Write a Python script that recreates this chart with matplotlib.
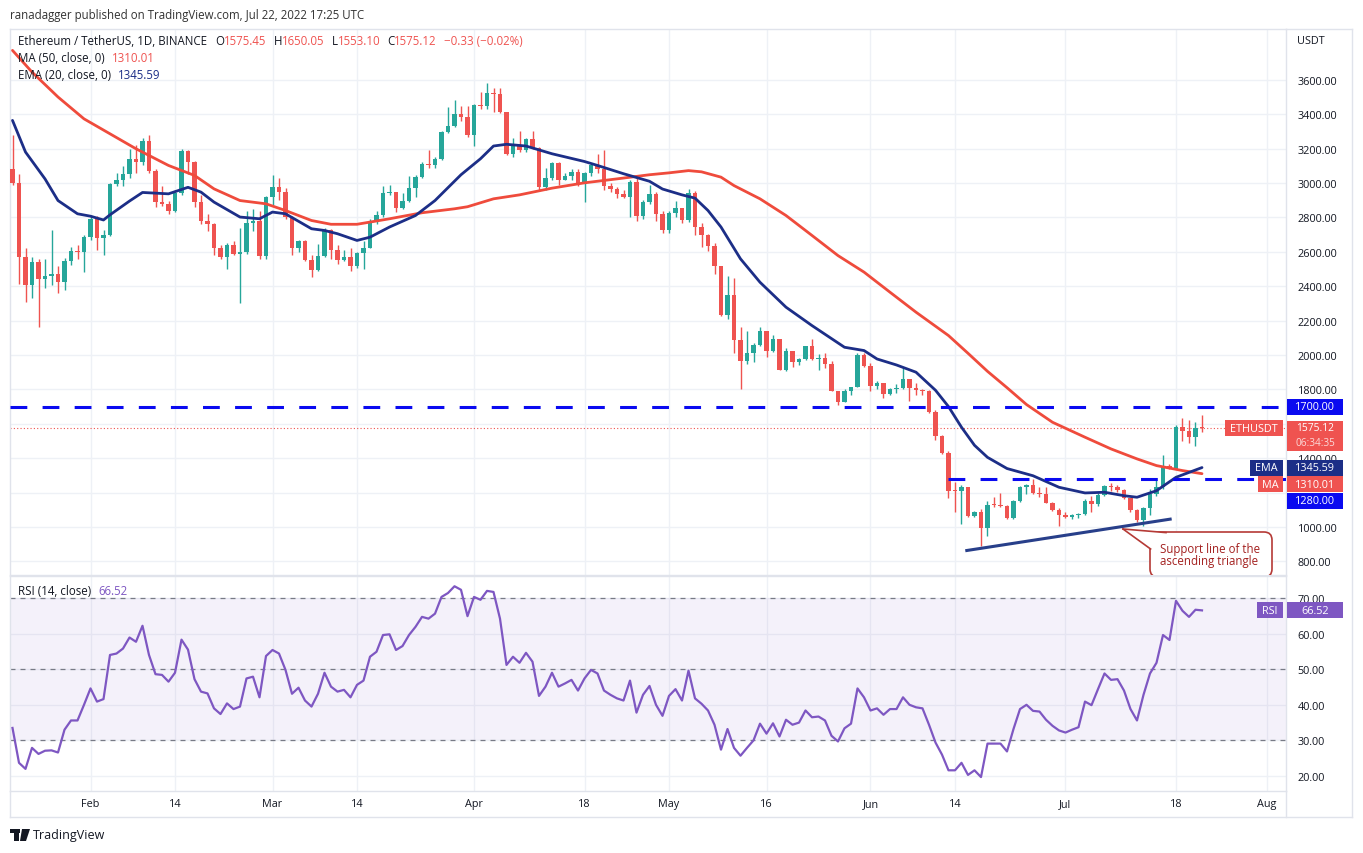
import numpy as np
import pandas as pd
import matplotlib
matplotlib.use('Agg')
import matplotlib.pyplot as plt
import matplotlib.dates as mdates
from matplotlib.patches import Rectangle, FancyBboxPatch, Polygon
from matplotlib.lines import Line2D
from matplotlib.transforms import IdentityTransform

plt.rcParams['font.family'] = ['Open Sans', 'DejaVu Sans']

# ETH/USDT daily candles, 20 Jan - 22 Jul 2022
dates = pd.date_range('2022-01-20', '2022-07-22', freq='D')

opens = [
    3080, 3000, 2570, 2408, 2540, 2443, 2462, 2470, 2425, 2548, 2605, 2600,
    2686, 2792, 2682, 2698, 2995, 3020, 3055, 3141, 3120, 3245, 3070, 2890, 2880, 2840,
    2940, 3185, 3125, 2890, 2780, 2760, 2620, 2570, 2640, 2585, 2600, 2765, 2780, 2575,
    2920, 2975, 2950, 2800, 2620, 2665, 2550, 2495, 2575, 2728, 2610, 2555, 2570, 2515,
    2595, 2620, 2772, 2815, 2941, 2950, 2856, 2895, 2972, 3035, 3112, 3105, 3140, 3296,
    3330, 3403, 3385,
    3280, 3455, 3445, 3522, 3518, 3410, 3170, 3222, 3190, 3255, 3205, 2976, 3030, 3117,
    3020, 3040, 3062, 2995, 3060, 3105, 3080, 2985, 2965, 2935, 2920, 3005, 2810, 2890,
    2937, 2817,
    2725, 2827, 2855, 2783, 2943, 2747, 2695, 2635, 2520, 2235, 2346, 2085, 1964, 2012,
    2058, 2142, 2022, 2094, 1915, 2026, 1958, 1975, 2051, 1975, 1980, 1945, 1793, 1729,
    1790, 1812, 2000,
    1938, 1818, 1835, 1774, 1805, 1808, 1860, 1810, 1795, 1790, 1667, 1531, 1430, 1211,
    1208, 1235, 1066, 1088, 995, 1130, 1128, 1125, 1052, 1150, 1231, 1245, 1200, 1190,
    1142, 1101,
    1068, 1060, 1068, 1074, 1150, 1135, 1188, 1240, 1232, 1218, 1168, 1098, 1038, 1110,
    1190, 1232, 1355, 1340, 1582, 1560, 1522, 1575.45,
]
highs = [
    3280, 3050, 2620, 2570, 2560, 2560, 2724, 2520, 2565, 2630, 2640, 2700,
    2815, 2810, 2725, 3000, 3060, 3100, 3200, 3220, 3260, 3280, 3080, 2985, 2895, 2960,
    3200, 3190, 3130, 2930, 2820, 2765, 2640, 2650, 2660, 2740, 2840, 2850, 2840, 2925,
    3045, 3030, 2970, 2810, 2670, 2670, 2580, 2645, 2740, 2735, 2640, 2610, 2620, 2600,
    2660, 2790, 2840, 2980, 2990, 2950, 2940, 3040, 3045, 3120, 3190, 3150, 3300, 3440,
    3485, 3445, 3445,
    3460, 3530, 3583, 3550, 3550, 3410, 3260, 3300, 3260, 3300, 3210, 3090, 3125, 3125,
    3060, 3080, 3080, 3065, 3110, 3170, 3190, 3000, 2975, 2960, 3020, 3040, 2900, 2990,
    2945, 2835,
    2840, 2895, 2855, 2965, 2955, 2765, 2705, 2650, 2520, 2462, 2450, 2160, 2140, 2070,
    2160, 2142, 2115, 2094, 2040, 2026, 1985, 2055, 2094, 2005, 2010, 1965, 1793, 1800,
    1815, 2010, 2010,
    1955, 1850, 1840, 1810, 1830, 1929, 1860, 1835, 1805, 1795, 1680, 1535, 1440, 1260,
    1245, 1235, 1095, 1107, 1150, 1175, 1200, 1130, 1158, 1238, 1250, 1280, 1235, 1235,
    1145, 1112,
    1090, 1075, 1080, 1160, 1180, 1195, 1245, 1255, 1245, 1220, 1170, 1102, 1115, 1220,
    1275, 1420, 1365, 1595, 1632, 1625, 1612, 1650.05,
]
lows = [
    2990, 2410, 2310, 2330, 2165, 2390, 2405, 2360, 2380, 2525, 2560, 2480,
    2670, 2610, 2580, 2690, 2985, 2985, 3030, 3060, 3105, 3060, 2860, 2865, 2820, 2830,
    2930, 3050, 2860, 2760, 2720, 2580, 2560, 2500, 2580, 2300, 2590, 2720, 2560, 2560,
    2870, 2900, 2790, 2580, 2600, 2545, 2455, 2490, 2570, 2560, 2530, 2545, 2490, 2505,
    2500, 2620, 2760, 2800, 2930, 2830, 2850, 2890, 2920, 3030, 3090, 3090, 3135, 3290,
    3325, 3360, 3265,
    3215, 3430, 3430, 3410, 3406, 3160, 3150, 3180, 3180, 3200, 2960, 2960, 3020, 2990,
    3015, 3020, 2980, 2890, 3040, 3060, 2960, 2945, 2915, 2910, 2800, 2780, 2790, 2880,
    2780, 2710,
    2710, 2800, 2765, 2775, 2700, 2630, 2605, 2470, 2225, 2210, 2012, 1800, 1950, 1960,
    2050, 1990, 2015, 1910, 1905, 1930, 1940, 1970, 1970, 1915, 1925, 1790, 1710, 1725,
    1770, 1812, 1930,
    1790, 1800, 1750, 1765, 1780, 1805, 1730, 1770, 1770, 1660, 1505, 1425, 1170, 1085,
    1017, 1060, 1060, 888, 950, 1118, 1118, 1045, 1048, 1145, 1190, 1190, 1175, 1140,
    1095, 1004,
    1050, 1045, 1050, 1070, 1090, 1125, 1180, 1210, 1205, 1160, 1090, 1030, 1007, 1070,
    1180, 1220, 1335, 1335, 1500, 1489, 1469, 1553.10,
]
closes = [
    3000, 2570, 2408, 2540, 2443, 2462, 2470, 2425, 2548, 2605, 2600, 2686,
    2792, 2680, 2698, 2995, 3020, 3055, 3141, 3120, 3245, 3070, 2890, 2880, 2840, 2940,
    3185, 3125, 2890, 2780, 2760, 2620, 2570, 2640, 2585, 2600, 2765, 2780, 2575, 2920,
    2975, 2950, 2800, 2620, 2665, 2550, 2495, 2575, 2728, 2610, 2555, 2570, 2515, 2595,
    2620, 2772, 2815, 2941, 2950, 2856, 2895, 2972, 3035, 3112, 3105, 3140, 3296, 3330,
    3403, 3385, 3280,
    3455, 3445, 3522, 3518, 3410, 3170, 3222, 3190, 3255, 3205, 2976, 3030, 3117, 3020,
    3040, 3062, 2995, 3060, 3105, 3080, 2985, 2965, 2935, 2920, 3005, 2810, 2890, 2937,
    2817, 2725,
    2827, 2855, 2783, 2943, 2747, 2695, 2635, 2520, 2235, 2346, 2085, 1964, 2012, 2058,
    2142, 2022, 2094, 1915, 2026, 1958, 1975, 2051, 1975, 1980, 1945, 1793, 1729, 1790,
    1812, 2000, 1938,
    1818, 1835, 1774, 1805, 1808, 1860, 1810, 1795, 1790, 1667, 1531, 1430, 1211, 1208,
    1235, 1066, 1088, 995, 1130, 1128, 1125, 1052, 1150, 1231, 1245, 1200, 1190, 1142,
    1101, 1068,
    1060, 1068, 1074, 1150, 1135, 1188, 1240, 1232, 1218, 1168, 1098, 1038, 1110, 1190,
    1232, 1355, 1340, 1582, 1560, 1522, 1575, 1575.12,
]

# RSI(14) daily values
rsi = [
    33.5, 23.7, 22.0, 27.9, 26.2, 27.1, 27.2, 26.6, 33.0, 35.6, 35.6, 40.0,
    44.6, 40.9, 41.6, 54.0, 54.4, 55.8, 58.9, 57.7, 62.2, 54.0, 48.6, 48.4, 46.5, 49.0,
    58.3, 55.5, 47.2, 43.7, 43.2, 39.0, 37.4, 40.4, 38.8, 39.5, 47.4, 47.9, 42.1, 53.7,
    55.4, 54.4, 49.8, 43.1, 44.8, 41.2, 39.5, 43.1, 49.0, 45.1, 43.7, 44.2, 42.1, 45.6,
    46.8, 53.5, 54.9, 59.6, 59.8, 55.4, 56.5, 59.6, 61.9, 64.7, 64.2, 65.6, 70.3, 71.4,
    73.3, 72.3, 64.9,
    70.3, 69.5, 72.0, 71.7, 64.2, 51.2, 53.5, 51.8, 54.6, 52.1, 42.5, 45.1, 49.0, 45.1,
    46.0, 47.0, 44.0, 47.4, 49.8, 48.8, 44.0, 42.8, 41.8, 41.2, 46.8, 37.8, 42.8, 45.3,
    40.0, 36.9,
    42.5, 44.4, 41.2, 49.6, 41.8, 40.3, 38.4, 34.4, 27.4, 33.2, 27.9, 25.7, 27.9, 30.0,
    34.7, 31.9, 34.8, 31.1, 35.8, 34.4, 35.0, 38.4, 36.5, 36.7, 35.6, 31.3, 29.7, 33.4,
    34.7, 44.6, 42.1,
    38.4, 39.0, 37.2, 38.8, 38.8, 42.1, 40.0, 39.3, 39.0, 34.4, 29.4, 26.0, 21.6, 21.6,
    23.7, 20.3, 21.6, 19.7, 29.1, 29.1, 29.1, 26.9, 33.2, 38.8, 40.0, 38.3, 38.1, 35.8,
    34.1, 32.8,
    32.2, 33.0, 33.7, 40.9, 39.9, 44.4, 48.8, 47.0, 47.2, 44.0, 38.8, 35.6, 42.8, 48.8,
    51.8, 59.6, 58.2, 69.2, 66.4, 64.7, 66.7, 66.52,
]

# MA(50) and EMA(20) read at sample dates
ma50_dates = ['01-20', '01-23', '01-27', '01-31', '02-04', '02-08', '02-13', '02-17', '02-20',
              '02-24', '02-28', '03-03', '03-07', '03-10', '03-14', '03-19', '03-24', '03-29',
              '03-31', '04-04', '04-08', '04-13', '04-18', '04-23', '04-28', '05-01', '05-04',
              '05-06', '05-09', '05-11', '05-15', '05-19', '05-23', '05-27', '05-31', '06-04',
              '06-08', '06-13', '06-16', '06-19', '06-22', '06-25', '06-29', '07-04', '07-08',
              '07-12', '07-15', '07-19', '07-22']
ma50 = [3771, 3645, 3500, 3373, 3286, 3199, 3102, 3044, 2966,
        2898, 2879, 2840, 2782, 2760, 2760, 2792, 2827, 2850,
        2862, 2908, 2931, 2970, 3001, 3024, 3048, 3059, 3072,
        3065, 3034, 2985, 2908, 2811, 2695, 2578, 2482, 2365,
        2249, 2113, 2010, 1905, 1810, 1712, 1609, 1522, 1454,
        1396, 1357, 1328, 1310.01]

ema20_dates = ['01-20', '01-22', '01-25', '01-27', '01-30', '02-01', '02-03', '02-04', '02-07',
               '02-09', '02-13', '02-16', '02-18', '02-20', '02-24', '02-27', '03-01', '03-03',
               '03-07', '03-09', '03-11', '03-14', '03-16', '03-19', '03-23', '03-26', '03-30',
               '04-02', '04-04', '04-06', '04-09', '04-13', '04-18', '04-20', '04-24', '04-28',
               '04-30', '05-03', '05-05', '05-07', '05-09', '05-12', '05-15', '05-19', '05-23',
               '05-28', '05-31', '06-02', '06-05', '06-08', '06-11', '06-13', '06-15', '06-17',
               '06-19', '06-22', '06-26', '06-30', '07-04', '07-07', '07-10', '07-12', '07-15',
               '07-18', '07-22']
ema20 = [3364, 3180, 3024, 2898, 2821, 2807, 2785, 2815, 2895,
         2945, 2937, 2975, 2947, 2889, 2802, 2792, 2831, 2821,
         2734, 2724, 2705, 2666, 2685, 2744, 2811, 2898, 3048,
         3141, 3215, 3225, 3215, 3170, 3125, 3102, 3054, 3010,
         2965, 2931, 2912, 2840, 2744, 2559, 2423, 2278, 2171,
         2045, 2026, 1977, 1942, 1900, 1795, 1700, 1580, 1475,
         1405, 1340, 1298, 1231, 1198, 1202, 1182, 1173, 1211,
         1289, 1345.59]

resistance = 1700.0
range_low = 1280.0
range_low_start = '2022-06-12 22:00'
support_dates = ['2022-06-15 14:00', '2022-07-17 08:00']
support_prices = [862, 1047]

last_price = 1575.12
ma_last = 1310.01
ema_last = 1345.59
rsi_last = 66.52

tick_dates = ['2022-02-01', '2022-02-14', '2022-03-01', '2022-03-14', '2022-04-01', '2022-04-18',
              '2022-05-01', '2022-05-16', '2022-06-01', '2022-06-14', '2022-07-01', '2022-07-18',
              '2022-08-01']
tick_labels = ['Feb', '14', 'Mar', '14', 'Apr', '18', 'May', '16', 'Jun', '14', 'Jul', '18', 'Aug']
price_ticks = list(range(800, 3601, 200))
hidden_ticks = [1200, 1600]   # covered by the price / EMA / MA tags on the chart
rsi_ticks = [20, 30, 40, 50, 60, 70]

# colours
UP, DOWN = '#26a69a', '#ef5350'
MA_C, EMA_C = '#ef4b3c', '#1c2e87'
LEVEL_C = '#0a0af0'
RSI_C = '#7e57c2'
TXT = '#131722'
GRID = '#eef1f6'
BORDER = '#e0e3eb'

W, H = 1363, 854
L, R = 10, 1286
FS = 7.8
FS_TXT = 8.3

fig = plt.figure(figsize=(W / 100, H / 100), dpi=100)
fig.patch.set_facecolor('white')


def fr(x0, y0, x1, y1):
    return [x0 / W, 1 - y1 / H, (x1 - x0) / W, (y1 - y0) / H]


ax = fig.add_axes(fr(L, 30, R, 576))
axr = fig.add_axes(fr(L, 577, R, 792), sharex=ax)

# scales (pixel calibration of the screenshot)
feb1 = mdates.date2num(pd.Timestamp('2022-02-01'))
ax.set_xlim(feb1 + (L - 90.5) / 6.5, feb1 + (R - 90.5) / 6.5)
ax.set_ylim(1000 - (576 - 528) / 0.172, 1000 + (528 - 30) / 0.172)
axr.set_ylim(20 - (792 - 777) / 3.56, 70 + (599 - 577) / 3.56)

x = mdates.date2num(dates)
o = np.array(opens); h = np.array(highs); lo = np.array(lows); c = np.array(closes)
cols = np.where(c >= o, UP, DOWN)

# candles
ax.vlines(x, lo, h, colors=cols, lw=1, zorder=3)
body_h = np.maximum(np.abs(c - o), 5)
ax.bar(x, body_h, bottom=np.minimum(o, c), width=0.65, color=cols, lw=0, zorder=4)

# moving averages
ma_x = mdates.date2num(pd.to_datetime(['2022-' + d for d in ma50_dates]))
ema_x = mdates.date2num(pd.to_datetime(['2022-' + d for d in ema20_dates]))
ax.plot(ma_x, ma50, color=MA_C, lw=2.0, zorder=5, solid_capstyle='round')
ax.plot(ema_x, ema20, color=EMA_C, lw=2.0, zorder=5, solid_capstyle='round')

# levels
xl = ax.get_xlim()
ax.hlines(resistance, xl[0], xl[1], color=LEVEL_C, lw=2.2, linestyles=(0, (5.5, 5)), zorder=6)
ax.hlines(range_low, mdates.date2num(pd.Timestamp(range_low_start)), xl[1], color=LEVEL_C,
          lw=2.2, linestyles=(0, (5.5, 5)), zorder=6)
ax.axhline(last_price, color=DOWN, lw=0.8, ls=(0, (1, 2)), zorder=2)
ax.plot(mdates.date2num(pd.to_datetime(support_dates)), support_prices, color='#283f8a', lw=2.2,
        zorder=6, solid_capstyle='butt')

# RSI panel
axr.axhspan(30, 70, color=RSI_C, alpha=0.08, lw=0)
for v in (70, 50, 30):
    axr.axhline(v, color='#787b86', lw=0.9, ls=(0, (4, 4)))
axr.plot(x, rsi, color=RSI_C, lw=1.6, zorder=4)

# axes styling
for a in (ax, axr):
    a.set_facecolor('none')
    a.grid(True, color=GRID, lw=1, zorder=0)
    a.set_axisbelow(True)
    a.yaxis.tick_right()
    a.tick_params(axis='y', length=0, pad=8.5, labelsize=FS, labelcolor=TXT)
    a.tick_params(axis='x', length=0)
    for s in a.spines.values():
        s.set_color(BORDER)
        s.set_linewidth(1)
ax.set_yticks(price_ticks)
ax.set_yticklabels(['' if v in hidden_ticks else f'{v:.2f}' for v in price_ticks])
axr.set_yticks(rsi_ticks)
axr.set_yticklabels([f'{v:.2f}' for v in rsi_ticks])
axr.set_xticks(mdates.date2num(pd.to_datetime(tick_dates)))
axr.set_xticklabels(tick_labels)
axr.tick_params(axis='x', pad=5, labelsize=FS, labelcolor=TXT)
plt.setp(ax.get_xticklabels(), visible=False)
ax.set_xlim(xl)

# outer frame
for xs, ys in (([R, 1352], [30, 30]), ([1352, 1352], [30, 818]), ([L, 1352], [818, 818]),
               ([R, R], [792, 818]), ([L, L], [792, 818])):
    fig.add_artist(Line2D([v / W for v in xs], [1 - v / H for v in ys], color=BORDER, lw=1))

fig.canvas.draw()


def ypx(a, v):
    return H - a.transData.transform((xl[0], v))[1]


def box(x0, y0, x1, y1, fc, z=20):
    fig.add_artist(Rectangle((x0, H - y1), x1 - x0, y1 - y0, transform=IdentityTransform(),
                             fc=fc, ec='none', zorder=z))


def ptext(px, py, s, color=TXT, size=FS, ha='left', va='center', z=21, **kw):
    return fig.text(px / W, 1 - py / H, s, color=color, fontsize=size, ha=ha, va=va, zorder=z, **kw)


TX0, TX1 = 1287, 1343
# 1700 level tag
y = ypx(ax, resistance)
box(TX0, y - 8, TX1, y + 8, LEVEL_C)
ptext((TX0 + TX1) / 2, y, f'{resistance:.2f}', 'white', ha='center')
# last price tag (price + countdown)
y = ypx(ax, last_price)
box(TX0, y - 7.5, TX1, y + 22.5, DOWN)
ptext((TX0 + TX1) / 2, y - 0.5, f'{last_price:.2f}', 'white', ha='center', size=7.4)
ptext((TX0 + TX1) / 2, y + 14.5, '06:34:35', '#fbd9d8', ha='center', size=7.2)
box(1225, y - 8, 1283, y + 8, DOWN)
ptext(1254, y, 'ETHUSDT', 'white', ha='center')

# stacked tags: EMA, MA, 1280 level
prev = -1e9
for val, name, col, x0 in ((ema_last, 'EMA', EMA_C, 1250), (ma_last, 'MA', DOWN, 1258),
                           (range_low, None, LEVEL_C, None)):
    y = max(ypx(ax, val), prev + 16.5)
    prev = y
    box(TX0, y - 8, TX1, y + 8, col)
    ptext((TX0 + TX1) / 2, y, f'{val:.2f}', 'white', ha='center')
    if name:
        box(x0, y - 8, 1283, y + 8, col)
        ptext((x0 + 1283) / 2, y, name, 'white', ha='center')

# RSI tag
y = ypx(axr, rsi_last)
box(TX0, y - 8, TX1, y + 8, RSI_C)
ptext((TX0 + TX1) / 2, y, f'{rsi_last:.2f}', 'white', ha='center')
box(1257, y - 8, 1283, y + 8, RSI_C)
ptext(1270, y, 'RSI', 'white', ha='center')

# callout for the support line
call = FancyBboxPatch((1150, H - 578), 122, 45, boxstyle='round,pad=0,rounding_size=8',
                      transform=IdentityTransform(), fc='white', ec='#b53a36', lw=1.2, zorder=22)
call.set_clip_box(ax.bbox)
fig.add_artist(call)
tip = (1123, H - 530)
fig.add_artist(Polygon([(1150.6, H - 550), tip, (1166, H - 533.6)], closed=True,
                       transform=IdentityTransform(), fc='white', ec='none', zorder=23))
for p in ((1150.6, H - 550), (1166, H - 533.6)):
    fig.add_artist(Line2D([tip[0], p[0]], [tip[1], p[1]], transform=IdentityTransform(),
                          color='#b53a36', lw=1.2, zorder=24))
ptext(1160, 549, 'Support line of the', '#a3201f', z=25, size=FS_TXT)
ptext(1160, 562, 'ascending triangle', '#a3201f', z=25, size=FS_TXT)


def chain(px, py, parts):
    t = ptext(px, py, parts[0][0], parts[0][1], va='baseline', size=FS_TXT)
    for s, col, gap in parts[1:]:
        t = ax.annotate(s, xy=(1, 0), xycoords=t, xytext=(gap, 0), textcoords='offset points',
                        color=col, fontsize=FS_TXT, va='bottom', ha='left', annotation_clip=False)
    return t


chain(18, 45, [('Ethereum / TetherUS, 1D, BINANCE', TXT), ('O', TXT, 6), ('1575.45', DOWN, 0),
               ('H', TXT, 5), ('1650.05', DOWN, 0), ('L', TXT, 5), ('1553.10', DOWN, 0),
               ('C', TXT, 5), ('1575.12', DOWN, 0), ('\u22120.33 (\u22120.02%)', DOWN, 5)])
chain(18, 62, [('MA (50, close, 0)', TXT), (f'{ma_last:.2f}', DOWN, 5)])
chain(18, 79, [('EMA (20, close, 0)', TXT), (f'{ema_last:.2f}', EMA_C, 5)])
chain(18, 595, [('RSI (14, close)', TXT), (f'{rsi_last:.2f}', RSI_C, 5)])

ptext(1297, 41, 'USDT')
ptext(10, 15, 'ranadagger published on TradingView.com, Jul 22, 2022 17:25 UTC', '#333333',
      size=FS_TXT)

# TradingView footer
fig.add_artist(Rectangle((10, H - 834), 10, 4, transform=IdentityTransform(), fc=TXT, ec='none'))
fig.add_artist(Rectangle((14, H - 842), 5, 12, transform=IdentityTransform(), fc=TXT, ec='none'))
fig.add_artist(Polygon([(22, H - 830), (30, H - 830), (26, H - 842), (20, H - 842)],
                       transform=IdentityTransform(), fc=TXT, ec='none'))
ptext(33, 836, 'TradingView', TXT, size=9)

fig.savefig('out.png', dpi=100, facecolor='white')
